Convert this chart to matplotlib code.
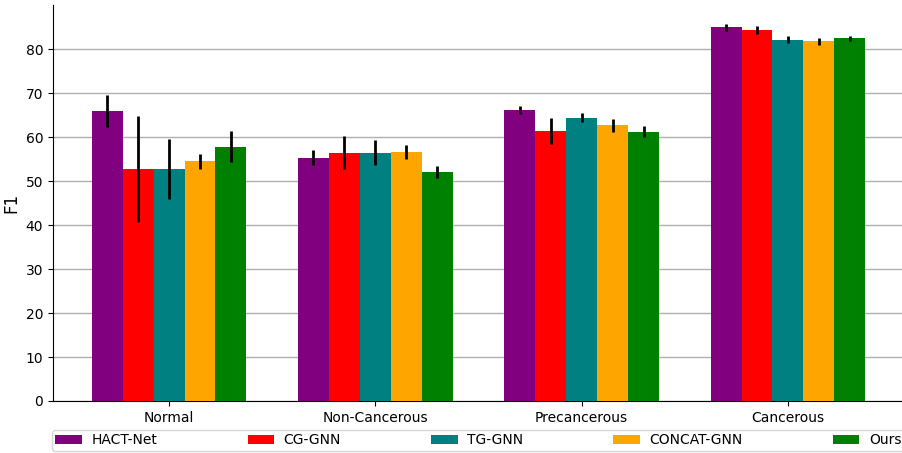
import numpy as np
import matplotlib
matplotlib.use("Agg")
import matplotlib.pyplot as plt

categories = ["Normal", "Non-Cancerous", "Precancerous", "Cancerous"]
methods = ["HACT-Net", "CG-GNN", "TG-GNN", "CONCAT-GNN", "Ours"]
colors = ["purple", "red", "teal", "orange", "green"]

hact_net = [66.0, 55.4, 66.3, 85.0]
cg_gnn = [52.8, 56.5, 61.5, 84.5]
tg_gnn = [52.8, 56.5, 64.5, 82.2]
concat_gnn = [54.5, 56.7, 62.7, 81.8]
ours = [57.9, 52.2, 61.3, 82.5]

hact_net_err = [3.7, 1.75, 0.9, 0.85]
cg_gnn_err = [12.1, 3.8, 3.0, 0.9]
tg_gnn_err = [6.8, 2.9, 1.1, 0.85]
concat_gnn_err = [1.7, 1.65, 1.5, 0.8]
ours_err = [3.6, 1.35, 1.3, 0.5]

means = [hact_net, cg_gnn, tg_gnn, concat_gnn, ours]
errs = [hact_net_err, cg_gnn_err, tg_gnn_err, concat_gnn_err, ours_err]

fig = plt.figure(figsize=(9.03, 4.53), dpi=100)
ax = fig.add_axes([53 / 903, 52 / 453, 851 / 903, 396 / 453])

x = np.arange(len(categories))
width = 0.15
for i, (m, e, c, name) in enumerate(zip(means, errs, colors, methods)):
    ax.bar(x + (i - 2) * width, m, width, yerr=e, color=c, label=name,
           error_kw=dict(ecolor="black", elinewidth=2, capsize=0), zorder=3)

ax.set_xticks(x)
ax.set_xticklabels(categories, fontsize=10)
ax.set_yticks(np.arange(0, 81, 10))
ax.tick_params(axis="y", labelsize=10)
ax.set_ylim(0, 90.1)
ax.set_xlim(-0.5625, 3.5625)
ax.set_ylabel("F1", fontsize=12)
ax.yaxis.grid(True, color="#b0b0b0", linewidth=1, zorder=0)
ax.set_axisbelow(True)
for s in ["top", "right"]:
    ax.spines[s].set_visible(False)

fig.legend(loc="upper left", bbox_to_anchor=(52 / 903, 1 - 430 / 453, 853 / 903, 0),
           bbox_transform=fig.transFigure, ncol=5, mode="expand",
           borderaxespad=0, borderpad=0.25, fontsize=10, handlelength=1.9,
           handleheight=0.7, handletextpad=0.7, frameon=True)

fig.savefig("out.png", dpi=100)
